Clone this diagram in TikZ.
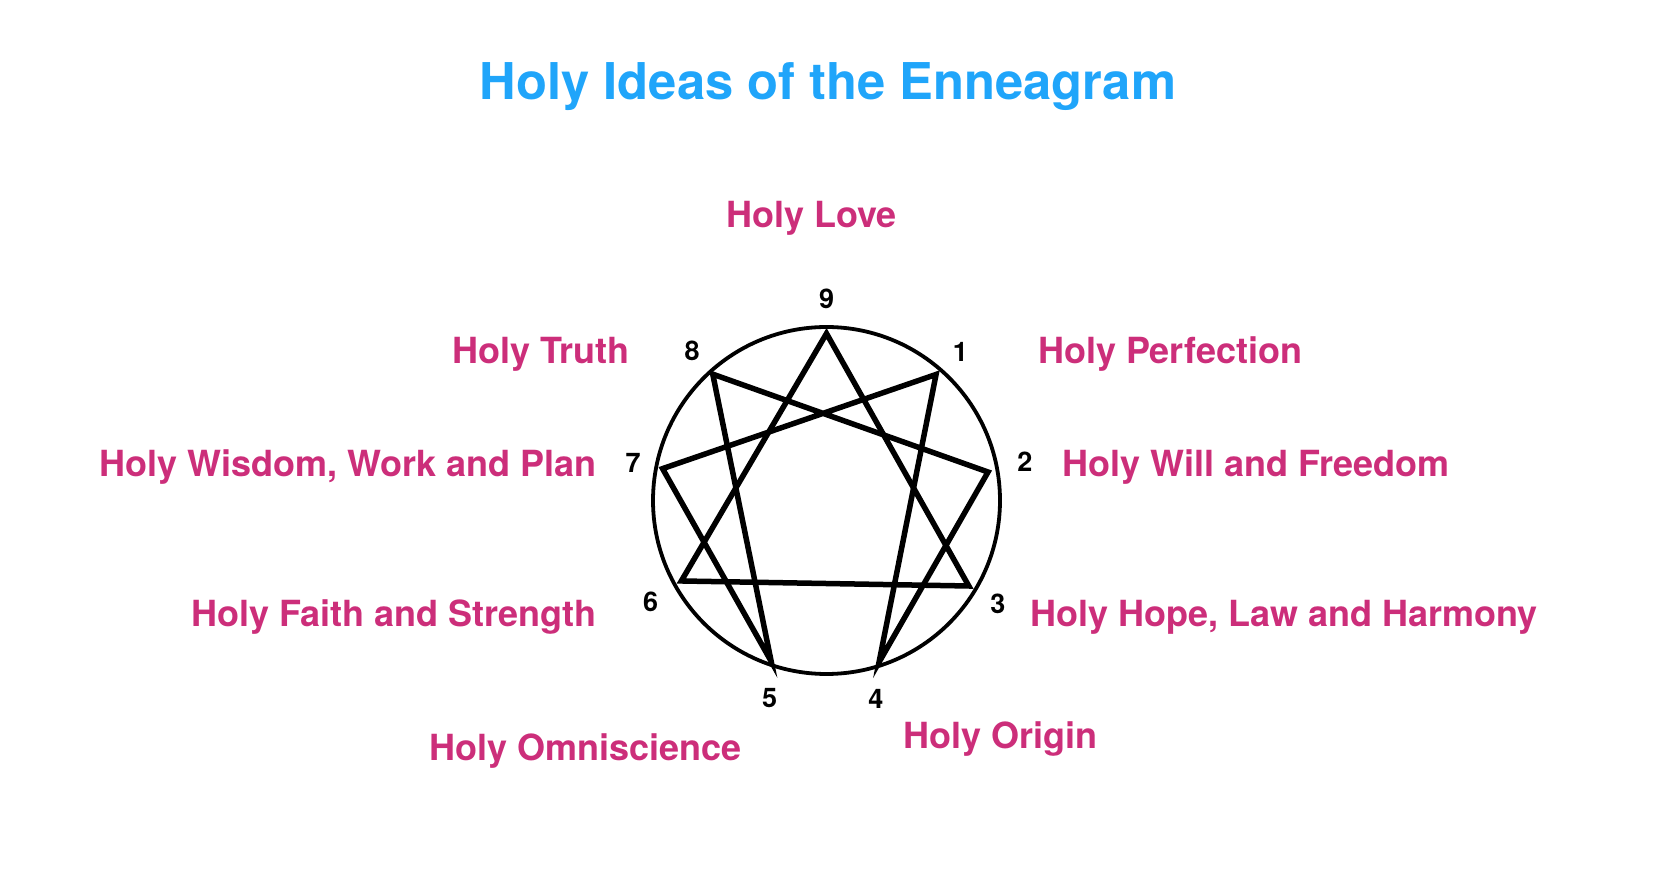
\documentclass[tikz,border=0pt]{standalone}
\usepackage{fontspec}
\setmainfont{TeX Gyre Heros}
\usetikzlibrary{calc}
\definecolor{titleblue}{RGB}{32,165,250}
\definecolor{ideapink}{RGB}{204,46,122}
\tikzset{idea/.style={ideapink, inner sep=0pt, font=\fontsize{36}{40}\selectfont\bfseries},
  point/.style={inner sep=0pt, font=\fontsize{27}{30}\selectfont\bfseries}}

\begin{document}
\begin{tikzpicture}[x=1pt, y=1pt, line join=miter]
  \useasboundingbox (0,0) rectangle (1680,870);
  \coordinate (o) at (826.5,369.5);
  \node[titleblue, inner sep=0pt, anchor=base, font=\fontsize{50.7}{56}\selectfont\bfseries] (title) at (828,770) {Holy Ideas of the Enneagram};
  % circle and the nine points
  \draw[line width=3.8pt] (o) circle (173.5);
  \foreach \n/\a/\r in {9/90/167,1/49/167,2/10/164,3/-31/166,4/-72/170,5/-109/170,6/-151/166,7/169/167,8/132/170}
    \coordinate (p\n) at ($(o)+(\a:\r)$);
  \foreach \n/\a/\r in {9/90/202,1/48/200,2/11/202,3/-31/200,4/-76/204,5/-106/206,6/-150/203,7/169/197,8/132/201}
    \node[point] (n\n) at ($(o)+(\a:\r)$) {\n};
  \draw[line width=5.5pt] (p9) -- (p3) -- (p6) -- cycle;
  \draw[line width=5.5pt] (p1) -- (p4) -- (p2) -- (p8) -- (p5) -- (p7) -- cycle;
  % holy ideas
  \node[idea, anchor=base] (love) at (811.5,642) {Holy Love};
  \node[idea, anchor=base east] (truth) at (630,506) {Holy Truth};
  \node[idea, anchor=base west] (perfection) at (1038,506) {Holy Perfection};
  \node[idea, anchor=base east] (wisdom) at (597,393) {Holy Wisdom, Work and Plan};
  \node[idea, anchor=base west] (will) at (1062,393) {Holy Will and Freedom};
  \node[idea, anchor=base east] (faith) at (597,243) {Holy Faith and Strength};
  \node[idea, anchor=base west] (hope) at (1030,243) {Holy Hope, Law and Harmony};
  \node[idea, anchor=base west] (omniscience) at (429,110) {Holy Omniscience};
  \node[idea, anchor=base west] (origin) at (903,122) {Holy Origin};
\end{tikzpicture}
\end{document}
